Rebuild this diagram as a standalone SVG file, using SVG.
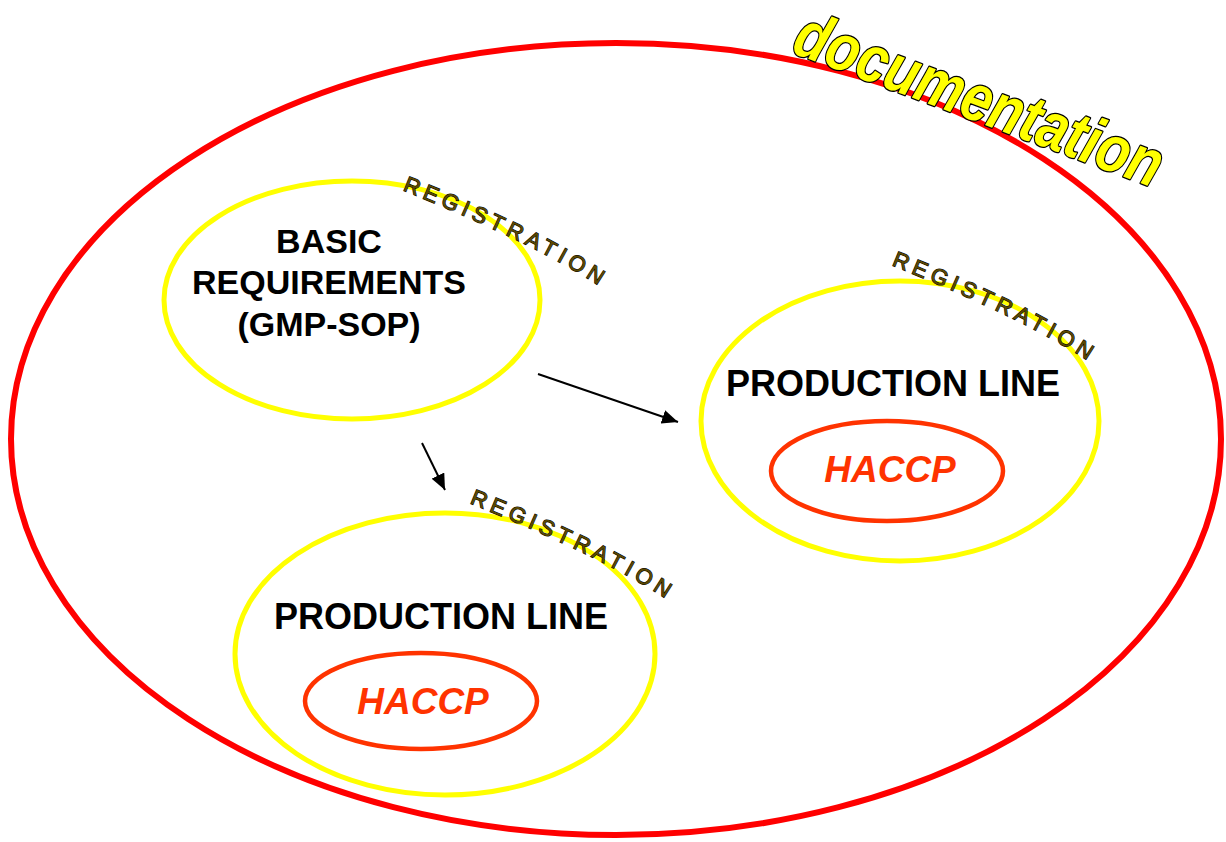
<svg xmlns="http://www.w3.org/2000/svg" xmlns:xlink="http://www.w3.org/1999/xlink" width="1226" height="842" viewBox="0 0 1226 842">
  <style>
    .frame { fill: none; stroke: #FF0000; stroke-width: 6; }
    .area { fill: none; stroke: #FFFF00; stroke-width: 5; }
    .haccp { fill: none; stroke: #FF3300; stroke-width: 4.5; }
    .label { font-family: "Liberation Sans", Arial, sans-serif; font-weight: bold; font-size: 34px; fill: #000; text-anchor: middle; }
    .line-label { font-size: 36px; }
    .haccp-text { font-family: "Liberation Sans", Arial, sans-serif; font-weight: bold; font-style: italic; font-size: 37px; fill: #FF3300; text-anchor: middle; }
    .reg { font-family: "Liberation Sans", Arial, sans-serif; font-size: 22px; letter-spacing: 5px; fill: #5a4800; stroke: #000; stroke-width: 1.1; paint-order: stroke fill; }
    .doc { font-family: "Liberation Sans", Arial, sans-serif; font-weight: bold; font-style: italic; font-size: 66px; fill: #FFFF00; stroke: #000; stroke-width: 2.6; stroke-linejoin: round; paint-order: stroke fill; }
    .conn { stroke: #000; stroke-width: 2; fill: none; }
  </style>
  <defs>
    <!-- arc that the REGISTRATION captions follow -->
    <path id="regArc" d="M 402,190 Q 546,248 608,292"/>
    <marker id="arrowHead" markerUnits="userSpaceOnUse" viewBox="0 0 16 14" markerWidth="16" markerHeight="14" refX="16" refY="7" orient="auto">
      <path d="M0,0 L16,7 L0,14 z" fill="#000"/>
    </marker>
  </defs>

  <!-- documentation boundary -->
  <g id="documentation">
    <ellipse class="frame" cx="616" cy="439" rx="605" ry="396"/>
    <text class="doc" transform="translate(790,52) rotate(20.5) scale(0.82,1)">documentation</text>
  </g>

  <!-- basic requirements -->
  <g id="basic-requirements">
    <ellipse class="area" cx="352" cy="300" rx="188" ry="119"/>
    <text class="label" x="329" y="253">BASIC</text>
    <text class="label" x="329" y="294">REQUIREMENTS</text>
    <text class="label" x="329" y="336">(GMP-SOP)</text>
    <text class="reg"><textPath xlink:href="#regArc" href="#regArc">REGISTRATION</textPath></text>
  </g>

  <!-- production line (right) -->
  <g id="production-line-right">
    <ellipse class="area" cx="900" cy="421" rx="199" ry="140"/>
    <text class="label line-label" x="893" y="396">PRODUCTION LINE</text>
    <text class="reg" transform="translate(489,75)"><textPath xlink:href="#regArc" href="#regArc">REGISTRATION</textPath></text>
  </g>
  <g id="haccp-right">
    <ellipse class="haccp" cx="887" cy="471" rx="116" ry="50"/>
    <text class="haccp-text" x="890" y="482">HACCP</text>
  </g>

  <!-- production line (bottom) -->
  <g id="production-line-bottom">
    <ellipse class="area" cx="445" cy="654" rx="210" ry="141"/>
    <text class="label line-label" x="441" y="629">PRODUCTION LINE</text>
    <text class="reg" transform="translate(67,313)"><textPath xlink:href="#regArc" href="#regArc">REGISTRATION</textPath></text>
  </g>
  <g id="haccp-bottom">
    <ellipse class="haccp" cx="421" cy="701" rx="116" ry="48"/>
    <text class="haccp-text" x="423" y="714">HACCP</text>
  </g>

  <!-- connectors -->
  <g id="connectors">
    <line class="conn" x1="538" y1="374" x2="678" y2="422" marker-end="url(#arrowHead)"/>
    <line class="conn" x1="422" y1="443" x2="445" y2="490" marker-end="url(#arrowHead)"/>
  </g>
</svg>
